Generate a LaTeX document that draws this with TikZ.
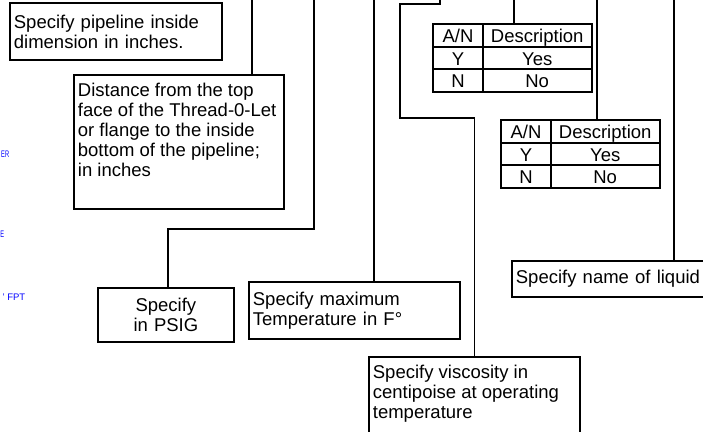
\documentclass[tikz,border=0pt]{standalone}
\usepackage{fontspec}
\setmainfont{Liberation Sans}
\usetikzlibrary{matrix}

\newcommand{\boxfont}{\fontsize{18.5}{20}\selectfont}
\newcommand{\cadfont}{\fontsize{9.5}{10}\selectfont}

\begin{document}
\begin{tikzpicture}[
                x=1pt, y=-1pt,
                note/.style={rectangle,draw=black,line width=1.8pt,anchor=north west,inner xsep=4pt,inner ysep=0pt,align=left,font=\boxfont},
                wire/.style={draw=black,line width=1.8pt},
                yntab/.style={matrix of nodes,anchor=north west,inner sep=0pt,column sep=-1.8pt,row sep=-1.8pt,
                    nodes={rectangle,draw=black,line width=1.8pt,inner sep=0pt,text height=18pt,text depth=3pt,minimum height=22.5pt,font=\boxfont},
                    column 1/.style={nodes={minimum width=49.5pt}},
                    column 2/.style={nodes={minimum width=109pt}}},
                cad/.style={text=blue,font=\cadfont,inner sep=0pt},
            ]

            \useasboundingbox (0,0) rectangle (703,431);
            \clip (0,0) rectangle (703,431);

            % Define nodes
            \node[note,text width=204pt,minimum height=57pt] (dia) at (9,2) {Specify pipeline inside\\ dimension in inches.};
            \node[note,inner ysep=8pt] (depth) at (73,74) {\parbox[t][118pt][t]{202pt}{\raggedright Distance from the top\\ face of the Thread-0-Let\\ or flange to the inside\\ bottom of the pipeline;\\ in inches}};
            \node[note,align=center,text width=128pt,minimum height=54pt] (psig) at (97,287) {Specify\\ in PSIG};
            \node[note,text width=203pt,minimum height=57pt] (temp) at (248,281) {Specify maximum\\ Temperature in F°};
            \node[note,inner ysep=8pt] (visc) at (368,356) {\parbox[t][84pt][t]{203pt}{\raggedright Specify viscosity in\\ centipoise at operating\\ temperature}};
            \node[note,text width=192pt,minimum height=36pt] (liquid) at (511,260) {Specify name of liquid};

            \matrix[yntab] (yn1) at (432.1,23.1) {A/N & Description\\ Y & Yes\\ N & No\\};
            \matrix[yntab] (yn2) at (500.1,119.1) {A/N & Description\\ Y & Yes\\ N & No\\};

            \node[cad,anchor=base west] (cad1) at (1,157) {\scalebox{0.6}[1]{ER}};
            \node[cad,anchor=base west] (cad2) at (0.3,237) {\scalebox{0.6}[1]{E}};
            \node[cad,anchor=base east] (cad3) at (25.5,300) {' FPT};

            % Loose ends at the top edge
            \coordinate (t1) at (252,0);
            \coordinate (t2) at (314,0);
            \coordinate (t3) at (374,0);
            \coordinate (t4) at (440,0);
            \coordinate (t5) at (514,0);
            \coordinate (t6) at (597,0);
            \coordinate (t7) at (674,0);

            % Draw connections
            \draw[wire] (t1) -- (depth.north -| t1);
            \draw[wire] (t2) -- (314,229) -| ([xshift=2pt]psig.north);
            \draw[wire] (t3) -- (temp.north -| t3);
            \draw[wire] (t4) -- (440,4) -- (400,4) -- (400,118) -| (visc.north);
            \draw[wire] (t5) -- (yn1.north -| t5);
            \draw[wire] (t6) -- (yn2.north -| t6);
            \draw[wire] (t7) -- (liquid.north -| t7);

            \end{tikzpicture}
\end{document}
